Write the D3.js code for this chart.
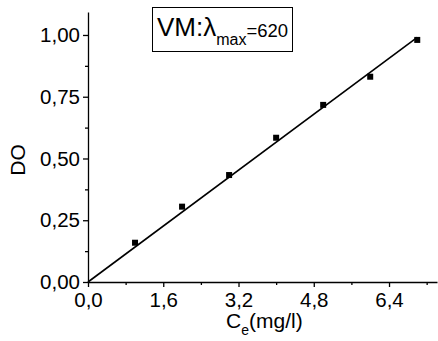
<!DOCTYPE html>
<html>
<head>
<meta charset="utf-8">
<script src="https://cdn.jsdelivr.net/npm/d3@7"></script>
<style>
  body { margin: 0; background: #fff; }
  svg { display: block; font-family: "Liberation Sans", Arial, sans-serif; }
</style>
</head>
<body>
<div id="chart"></div>
<script>
// measured points
const conc = [1.0, 2.0, 3.0, 4.0, 5.0, 6.0, 7.0];
const absorb = [0.159, 0.305, 0.433, 0.584, 0.717, 0.831, 0.980];

// linear fit, end points
const fitX = [0, 7.0];
const fitY = [0, 0.99];

const xTicks = [0, 1.6, 3.2, 4.8, 6.4];
const yTicks = [0, 0.25, 0.5, 0.75, 1.0];
const xMinor = [0.8, 2.4, 4.0, 5.6, 7.2];
const yMinor = [0.125, 0.375, 0.625, 0.875];

const W = 438, H = 341;
const margin = { top: 12, right: 1, bottom: 59, left: 88 };
const width = W - margin.left - margin.right;
const height = H - margin.top - margin.bottom;

const svg = d3.select('#chart')
  .append('svg')
  .attr('width', W)
  .attr('height', H);

const g = svg.append('g')
  .attr('transform', `translate(${margin.left},${margin.top})`);

const x = d3.scaleLinear().domain([0, 7.42]).range([0, width]);
const y = d3.scaleLinear().domain([0, 1.093]).range([height, 0]);

const fmt = d => d.toFixed(1).replace('.', ',');
const fmtY = d => d.toFixed(2).replace('.', ',');

// x axis
const xAxis = g.append('g')
  .attr('transform', `translate(0,${height})`)
  .call(d3.axisBottom(x).tickValues(xTicks).tickSize(5).tickSizeOuter(0).tickFormat(fmt));
xAxis.selectAll('text').attr('font-size', 20.5).attr('dy', 0).attr('y', 25);
g.append('g')
  .attr('transform', `translate(0,${height})`)
  .call(d3.axisBottom(x).tickValues(xMinor).tickSize(3).tickSizeOuter(0).tickFormat(''))
  .select('.domain').remove();

// y axis
const yAxis = g.append('g')
  .call(d3.axisLeft(y).tickValues(yTicks).tickSize(5).tickSizeOuter(0).tickFormat(fmtY));
yAxis.selectAll('text').attr('font-size', 20.5).attr('x', -8);
g.append('g')
  .call(d3.axisLeft(y).tickValues(yMinor).tickSize(3).tickSizeOuter(0).tickFormat(''))
  .select('.domain').remove();

g.selectAll('.domain, .tick line').attr('stroke', '#000').attr('stroke-width', 1.3);
g.selectAll('.tick text').attr('fill', '#000');

// fit line
const fit = fitX.map((v, i) => ({ x: v, y: fitY[i] }));
g.append('path')
  .datum(fit)
  .attr('fill', 'none')
  .attr('stroke', '#000')
  .attr('stroke-width', 1.6)
  .attr('d', d3.line().x(d => x(d.x)).y(d => y(d.y)));

// points
const pts = conc.map((v, i) => ({ x: v, y: absorb[i] }));
g.selectAll('.dot')
  .data(pts)
  .enter()
  .append('rect')
  .attr('class', 'dot')
  .attr('x', d => x(d.x) - 3)
  .attr('y', d => y(d.y) - 3)
  .attr('width', 6)
  .attr('height', 6)
  .attr('fill', '#000');

// axis titles
const xl = svg.append('text')
  .attr('x', 226)
  .attr('y', 328)
  .attr('font-size', 21);
xl.append('tspan').text('C');
xl.append('tspan').attr('font-size', 14).attr('dy', 7).text('e');
xl.append('tspan').attr('dy', -7).text('(mg/l)');

svg.append('text')
  .attr('transform', 'translate(25,160) rotate(-90)')
  .attr('text-anchor', 'middle')
  .attr('font-size', 21)
  .text('DO');

// legend box
svg.append('rect')
  .attr('x', 152.5)
  .attr('y', 7.5)
  .attr('width', 140)
  .attr('height', 44)
  .attr('fill', '#fff')
  .attr('stroke', '#000')
  .attr('stroke-width', 1);

const lt = svg.append('text')
  .attr('x', 157)
  .attr('y', 36)
  .attr('font-size', 26);
lt.append('tspan').text('VM:λ');
lt.append('tspan').attr('font-size', 16).attr('dy', 9).text('max');
lt.append('tspan').attr('font-size', 18.5).attr('dy', -8).text('=620');
</script>
</body>
</html>
